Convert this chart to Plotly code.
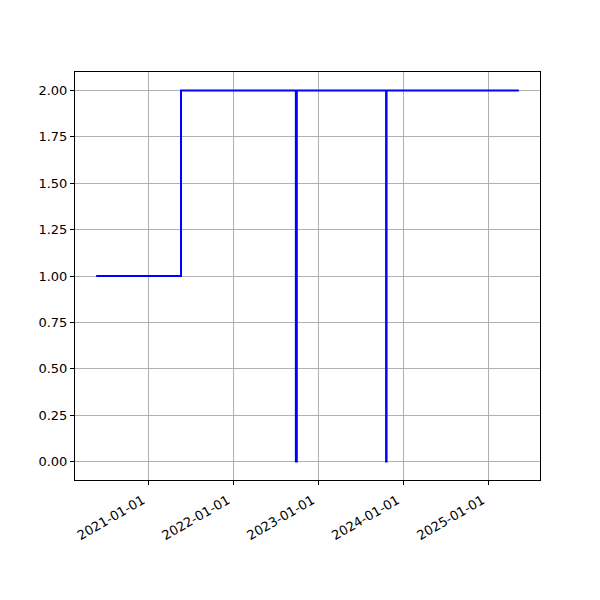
import plotly.graph_objects as go
import pandas as pd

dates = ["2020-05-20", "2021-05-20", "2022-09-26", "2022-09-30",
         "2023-10-19", "2023-10-21", "2025-05-12"]
values = [1, 2, 0, 2, 0, 2, 2]
tick_dates = ["2021-01-01", "2022-01-01", "2023-01-01", "2024-01-01", "2025-01-01"]
y_ticks = [0, 0.25, 0.5, 0.75, 1.0, 1.25, 1.5, 1.75, 2.0]

d = pd.to_datetime(dates)
span = d.max() - d.min()
xr = [d.min() - 0.05 * span, d.max() + 0.05 * span]
vspan = max(values) - min(values)
yr = [min(values) - 0.05 * vspan, max(values) + 0.05 * vspan]

fig = go.Figure(go.Scatter(x=d, y=values, mode="lines",
                           line=dict(shape="hv", color="#0000ff", width=2)))
axis_common = dict(showline=True, linecolor="black", linewidth=1, mirror=True,
                   showgrid=True, gridcolor="#b0b0b0", gridwidth=1,
                   ticks="outside", ticklen=4, tickcolor="black", zeroline=False,
                   automargin=False,
                   tickfont=dict(family="DejaVu Sans", size=13, color="black"))
fig.update_xaxes(range=xr, tickvals=pd.to_datetime(tick_dates), ticktext=tick_dates,
                 tickangle=-30, ticklabelshift=-6, ticklabelstandoff=3, **axis_common)
fig.update_yaxes(range=yr, tickvals=y_ticks, ticktext=[f"{v:.2f}" for v in y_ticks],
                 **axis_common)
fig.update_layout(width=600, height=600, plot_bgcolor="white", paper_bgcolor="white",
                  margin=dict(l=67, r=68, t=64, b=128), showlegend=False)
fig.write_html("out.html")
